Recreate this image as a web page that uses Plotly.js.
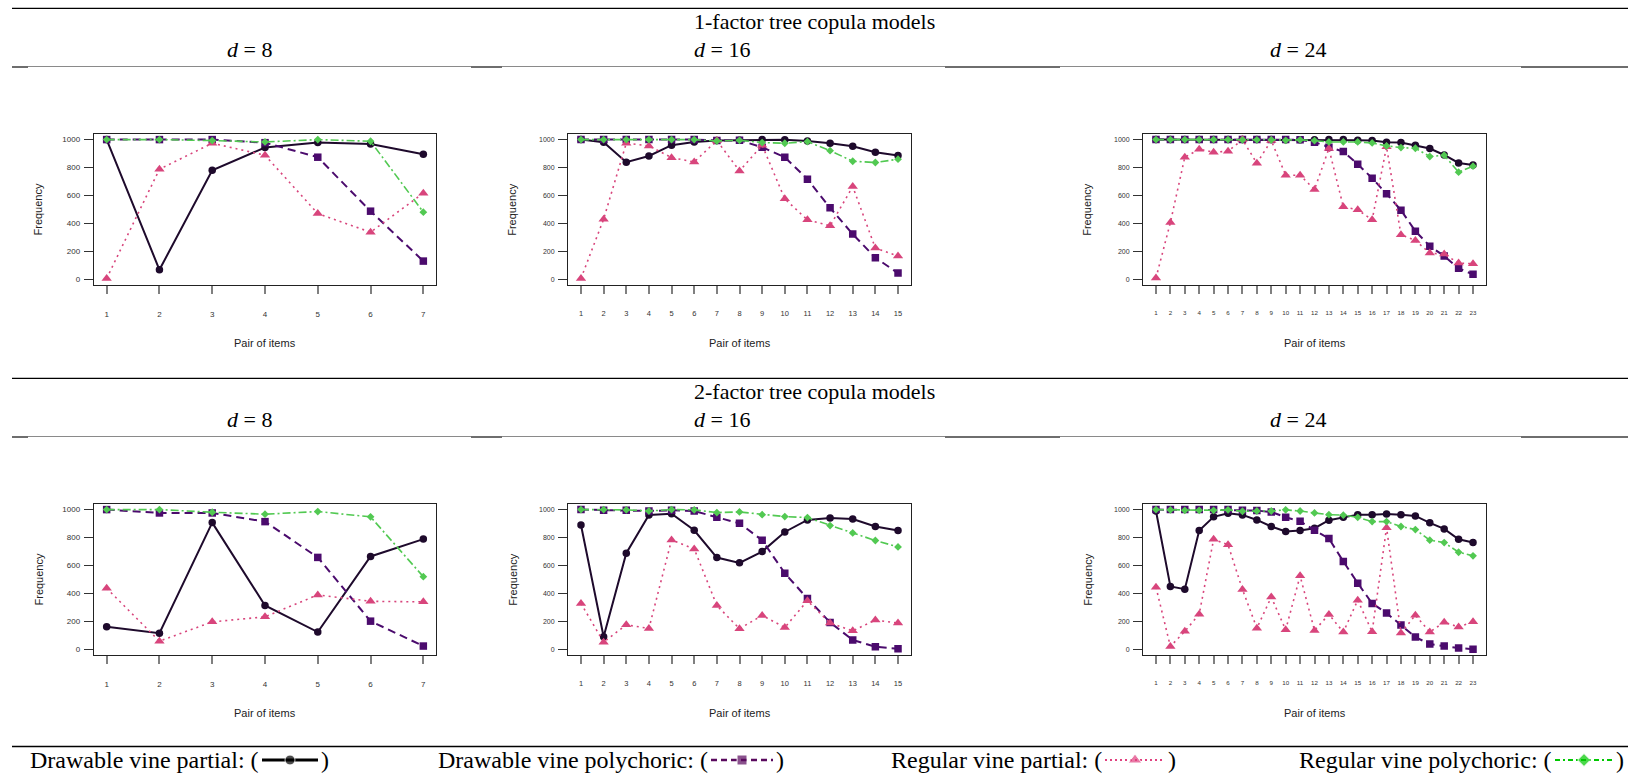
<!DOCTYPE html>
<html>
<head>
<meta charset="utf-8">
<script src="https://cdn.plot.ly/plotly-3.0.1.min.js"></script>
<style>html,body{margin:0;padding:0;background:#fff;}#chart{width:1628px;height:776px;}</style>
</head>
<body>
<div id="chart"></div>
<script>
// ---------------- DATA ----------------
const seriesNames = ["Drawable vine partial", "Drawable vine polychoric", "Regular vine partial", "Regular vine polychoric"];
const rowTitles = ["1-factor tree copula models", "2-factor tree copula models"];
const dims = [8, 16, 24];
const yTicks = [0, 200, 400, 600, 800, 1000];
const xTitle = "Pair of items";
const yTitle = "Frequency";

// 1-factor, d = 8
const f1d8_dvPartial = [1000, 69, 781, 943, 979, 969, 895];
const f1d8_dvPoly    = [1000, 1000, 1000, 978, 874, 488, 131];
const f1d8_rvPartial = [7, 788, 974, 888, 471, 338, 617];
const f1d8_rvPoly    = [1000, 1000, 993, 983, 1000, 988, 481];
// 1-factor, d = 16
const f1d16_dvPartial = [1000, 981, 838, 883, 960, 983, 993, 995, 1000, 998, 990, 974, 952, 910, 886];
const f1d16_dvPoly    = [1000, 1000, 1000, 1000, 1000, 1000, 993, 995, 945, 874, 717, 512, 324, 155, 45];
const f1d16_rvPartial = [7, 431, 974, 955, 871, 840, 993, 776, 960, 576, 426, 383, 664, 224, 167];
const f1d16_rvPoly    = [1000, 1000, 1000, 1000, 1000, 1000, 990, 995, 979, 974, 986, 921, 845, 836, 860];
// 1-factor, d = 24
const f1d24_dvPartial = [1000, 1000, 1000, 1000, 1000, 1000, 1000, 1000, 1000, 998, 998, 998, 1000, 1000, 995, 993, 981, 979, 960, 936, 890, 833, 819];
const f1d24_dvPoly    = [1000, 1000, 1000, 1000, 1000, 1000, 1000, 1000, 1000, 1000, 998, 981, 945, 914, 824, 724, 612, 495, 345, 238, 167, 79, 36];
const f1d24_rvPartial = [10, 407, 874, 931, 910, 917, 1000, 831, 993, 745, 745, 643, 936, 519, 498, 426, 948, 319, 279, 188, 181, 117, 112];
const f1d24_rvPoly    = [1000, 1000, 1000, 1000, 1000, 1000, 998, 998, 998, 995, 998, 993, 983, 983, 983, 976, 955, 943, 938, 879, 888, 767, 810];
// 2-factor, d = 8
const f2d8_dvPartial = [162, 116, 907, 314, 124, 665, 789];
const f2d8_dvPoly    = [1000, 976, 976, 914, 658, 202, 24];
const f2d8_rvPartial = [437, 59, 197, 233, 390, 344, 340];
const f2d8_rvPoly    = [1000, 1000, 981, 967, 986, 948, 520];
// 2-factor, d = 16
const f2d16_dvPartial = [890, 90, 688, 962, 971, 852, 657, 619, 700, 840, 926, 940, 933, 879, 850];
const f2d16_dvPoly    = [1000, 995, 995, 990, 995, 990, 945, 902, 781, 545, 364, 193, 67, 19, 5];
const f2d16_rvPartial = [329, 52, 176, 150, 783, 719, 314, 148, 243, 157, 348, 188, 133, 210, 188];
const f2d16_rvPoly    = [1000, 1000, 998, 990, 1000, 998, 979, 983, 964, 950, 943, 886, 833, 779, 733];
// 2-factor, d = 24
const f2d24_dvPartial = [990, 450, 431, 850, 948, 974, 962, 926, 879, 843, 850, 867, 924, 945, 964, 964, 969, 964, 955, 905, 862, 788, 764];
const f2d24_dvPoly    = [1000, 1000, 1000, 1000, 1000, 1000, 995, 993, 983, 945, 917, 852, 793, 629, 474, 329, 260, 174, 88, 38, 24, 10, 2];
const f2d24_rvPartial = [445, 21, 129, 252, 788, 748, 429, 152, 374, 140, 526, 136, 250, 124, 352, 126, 871, 117, 245, 124, 195, 160, 198];
const f2d24_rvPoly    = [1000, 998, 995, 995, 995, 998, 988, 990, 990, 998, 990, 976, 964, 960, 945, 914, 914, 879, 857, 781, 764, 695, 669];

const panels = [
  [f1d8_dvPartial, f1d8_dvPoly, f1d8_rvPartial, f1d8_rvPoly],
  [f1d16_dvPartial, f1d16_dvPoly, f1d16_rvPartial, f1d16_rvPoly],
  [f1d24_dvPartial, f1d24_dvPoly, f1d24_rvPartial, f1d24_rvPoly],
  [f2d8_dvPartial, f2d8_dvPoly, f2d8_rvPartial, f2d8_rvPoly],
  [f2d16_dvPartial, f2d16_dvPoly, f2d16_rvPartial, f2d16_rvPoly],
  [f2d24_dvPartial, f2d24_dvPoly, f2d24_rvPartial, f2d24_rvPoly]
];

// ---------------- LAYOUT / STYLE ----------------
const W = 1628, H = 776;
const px = x => x / W;
const py = y => 1 - y / H;

const colX = [[94, 436], [568.3, 910.7], [1143.3, 1485.7]];
const rowY = [[134, 285], [504, 655]];
const rowShift = 370;

const styles = [
  {color: '#1E0A2C', dash: 'solid', width: 2, symbol: 'circle', size: 7.5},
  {color: '#4B0B6D', dash: '8px,5px', width: 2, symbol: 'square', size: 7.5},
  {color: '#D8457C', dash: '2px,4px', width: 1.6, symbol: 'triangle-up', size: 9},
  {color: '#52C952', dash: '8px,3px,2px,3px', width: 1.6, symbol: 'diamond', size: 6}
];
const legendStyles = [
  {color: '#000000', dash: 'solid', width: 3, symbol: 'circle', size: 10},
  {color: '#5A0A5E', dash: '6px,4px', width: 2.5, symbol: 'square', size: 10},
  {color: '#E0407F', dash: '2px,3px', width: 2, symbol: 'triangle-up', size: 12},
  {color: '#00C800', dash: '5px,3px,2px,3px', width: 2.2, symbol: 'diamond', size: 10}
];

const xTickFont = [8, 7.5, 6.2];
const yTickFont = [8, 7, 7];

const traces = [];
const layout = {
  width: W, height: H,
  margin: {l: 0, r: 0, t: 0, b: 0},
  paper_bgcolor: '#ffffff',
  plot_bgcolor: 'rgba(0,0,0,0)',
  showlegend: false,
  annotations: [],
  shapes: []
};

const sansFont = 'Liberation Sans, Arial, Helvetica, sans-serif';
const serifFont = 'Liberation Serif, Times New Roman, serif';

panels.forEach((series, p) => {
  const r = Math.floor(p / 3), c = p % 3;
  const k = p + 1;
  const n = series[0].length;
  const xs = Array.from({length: n}, (_, i) => i + 1);
  const pad = 0.04 * (n - 1);
  series.forEach((vals, s) => {
    const st = styles[s];
    traces.push({
      type: 'scatter', mode: 'lines+markers',
      x: xs, y: vals, xaxis: 'x' + k, yaxis: 'y' + k,
      name: seriesNames[s],
      line: {color: st.color, dash: st.dash, width: st.width},
      marker: {color: st.color, symbol: st.symbol, size: st.size},
      hoverinfo: 'skip'
    });
  });
  layout['xaxis' + k] = {
    domain: [px(colX[c][0]), px(colX[c][1])],
    anchor: 'y' + k,
    range: [1 - pad, n + pad],
    tickmode: 'array', tickvals: xs, ticktext: xs.map(String),
    ticks: 'outside', ticklen: 8, tickwidth: 2, tickcolor: '#808080',
    ticklabelstandoff: 13,
    tickfont: {family: sansFont, size: xTickFont[c], color: '#333'},
    showline: true, linecolor: '#222', linewidth: 1.3, mirror: true,
    showgrid: false, zeroline: false, fixedrange: true
  };
  layout['yaxis' + k] = {
    domain: [py(rowY[r][1]), py(rowY[r][0])],
    anchor: 'x' + k,
    range: [-40, 1040],
    tickmode: 'array', tickvals: yTicks, ticktext: yTicks.map(String),
    ticks: 'outside', ticklen: 9, tickwidth: 1, tickcolor: '#333',
    ticklabelstandoff: 2,
    tickfont: {family: sansFont, size: yTickFont[c], color: '#333'},
    showline: true, linecolor: '#222', linewidth: 1.3, mirror: true,
    showgrid: false, zeroline: false, fixedrange: true
  };
  const cx = (colX[c][0] + colX[c][1]) / 2;
  const cy = (rowY[r][0] + rowY[r][1]) / 2;
  layout.annotations.push({
    xref: 'paper', yref: 'paper', x: px(cx), y: py(rowY[r][1] + 58),
    text: xTitle, showarrow: false, xanchor: 'center', yanchor: 'middle',
    font: {family: sansFont, size: 11, color: '#222'}
  });
  layout.annotations.push({
    xref: 'paper', yref: 'paper', x: px(colX[c][0] - 56), y: py(cy),
    text: yTitle, showarrow: false, textangle: -90, xanchor: 'center', yanchor: 'middle',
    font: {family: sansFont, size: 11, color: '#222'}
  });
});

// Headings and rules
const dCenters = [249, 722, 1298];
[0, 1].forEach(r => {
  const off = r * rowShift;
  layout.annotations.push({
    xref: 'paper', yref: 'paper', x: px(814), y: py(21 + off),
    text: rowTitles[r], showarrow: false, xanchor: 'center', yanchor: 'middle',
    font: {family: serifFont, size: 22, color: '#000'}
  });
  dims.forEach((d, c) => {
    layout.annotations.push({
      xref: 'paper', yref: 'paper', x: px(dCenters[c]), y: py(49 + off),
      text: '<i>d</i> = ' + d, showarrow: false, xanchor: 'center', yanchor: 'middle',
      font: {family: serifFont, size: 22, color: '#000'}
    });
  });
  layout.shapes.push({type: 'line', xref: 'paper', yref: 'paper',
    x0: px(12), x1: 1, y0: py(8.3 + off), y1: py(8.3 + off),
    line: {color: '#000', width: 1.3}});
  layout.shapes.push({type: 'line', xref: 'paper', yref: 'paper',
    x0: px(12), x1: 1, y0: py(66.5 + off), y1: py(66.5 + off),
    line: {color: '#8a8a8a', width: 1}});
  [[12, 28], [471, 502], [945, 1060], [1521, 1628]].forEach(seg => {
    layout.shapes.push({type: 'line', xref: 'paper', yref: 'paper',
      x0: px(seg[0]), x1: px(seg[1]), y0: py(67 + off), y1: py(67 + off),
      line: {color: '#6e6e6e', width: 2}});
  });
});

// Legend rule
layout.shapes.push({type: 'line', xref: 'paper', yref: 'paper',
  x0: px(12), x1: 1, y0: py(746.5), y1: py(746.5),
  line: {color: '#000', width: 1.5}});

// Legend (drawn on a hidden pixel-scaled axis)
layout.xaxis7 = {domain: [0, 1], range: [0, W], visible: false, anchor: 'y7', fixedrange: true};
layout.yaxis7 = {domain: [0, 1], range: [H, 0], visible: false, anchor: 'x7', fixedrange: true};
const legendSamples = [[262, 318], [711, 773], [1105, 1165], [1555, 1613]];
const legendY = 760;
legendSamples.forEach((sm, s) => {
  const st = legendStyles[s];
  traces.push({
    type: 'scatter', mode: 'lines+markers',
    x: [sm[0], (sm[0] + sm[1]) / 2, sm[1]], y: [legendY, legendY, legendY],
    xaxis: 'x7', yaxis: 'y7',
    line: {color: st.color, dash: st.dash, width: st.width},
    marker: {color: st.color, symbol: st.symbol, size: [0, st.size, 0]},
    hoverinfo: 'skip'
  });
  layout.annotations.push({
    xref: 'paper', yref: 'paper', x: px(sm[0] - 1), y: py(legendY),
    text: seriesNames[s] + ': (', showarrow: false, xanchor: 'right', yanchor: 'middle',
    font: {family: serifFont, size: 24, color: '#000'}
  });
  layout.annotations.push({
    xref: 'paper', yref: 'paper', x: px(sm[1] + 1), y: py(legendY),
    text: ')', showarrow: false, xanchor: 'left', yanchor: 'middle',
    font: {family: serifFont, size: 24, color: '#000'}
  });
});

Plotly.newPlot('chart', traces, layout, {staticPlot: true, displayModeBar: false});
</script>
</body>
</html>
